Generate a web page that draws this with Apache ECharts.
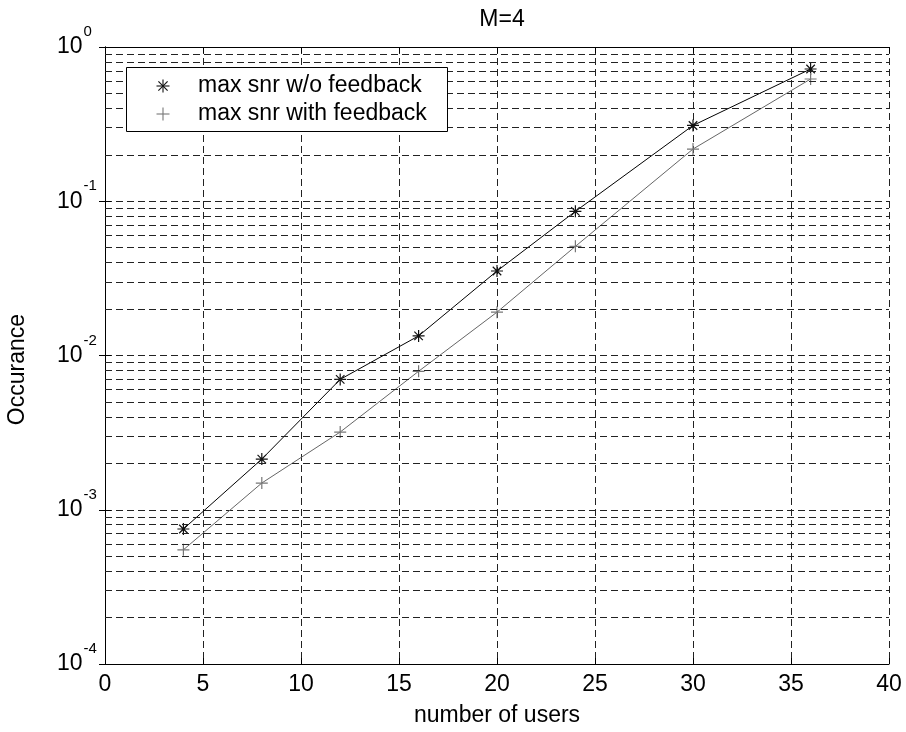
<!DOCTYPE html>
<html>
<head>
<meta charset="utf-8">
<script src="https://cdn.jsdelivr.net/npm/echarts@6/dist/echarts.min.js"></script>
<style>
  html, body { margin: 0; padding: 0; background: #fff; }
  #chart { width: 906px; height: 732px; }
</style>
</head>
<body>
<div id="chart"></div>
<script>
// Number of users on the x axis
const users = [4, 8, 12, 16, 20, 24, 30, 36];
// Occurrence probability, max SNR scheduling without feedback
const noFeedback = [7.5e-4, 2.13e-3, 7.0e-3, 1.34e-2, 3.53e-2, 8.6e-2, 0.31, 0.72];
// Occurrence probability, max SNR scheduling with feedback
const withFeedback = [5.5e-4, 1.49e-3, 3.19e-3, 7.9e-3, 1.91e-2, 5.1e-2, 0.218, 0.62];
// Minor log grid positions (2..9 within each decade)
const minorGrid = [
  2e-4, 3e-4, 4e-4, 5e-4, 6e-4, 7e-4, 8e-4, 9e-4,
  2e-3, 3e-3, 4e-3, 5e-3, 6e-3, 7e-3, 8e-3, 9e-3,
  2e-2, 3e-2, 4e-2, 5e-2, 6e-2, 7e-2, 8e-2, 9e-2,
  0.2, 0.3, 0.4, 0.5, 0.6, 0.7, 0.8, 0.9
];
const seriesNames = ['max snr w/o feedback', 'max snr with feedback'];
const seriesColors = ['#111', '#777'];

const FONT = 'Liberation Sans, Arial, sans-serif';
const FS = 23;
// Marker outlines: asterisk (plus + diagonal cross) and plus, as filled thin bars
const STAR_PATH = 'M-0.5,-5L0.5,-5L0.5,5L-0.5,5Z M-5,-0.5L5,-0.5L5,0.5L-5,0.5Z ' +
  'M-3.19,-3.89L3.89,3.19L3.19,3.89L-3.89,-3.19Z M-3.89,3.19L3.19,-3.89L3.89,-3.19L-3.19,3.89Z';
const PLUS_PATH = 'M-0.5,-5L0.5,-5L0.5,5L-0.5,5Z M-5,-0.5L5,-0.5L5,0.5L-5,0.5Z';

// Spoke directions of the key icons (unit vectors)
const starSpokes = [[0, 1], [1, 0], [0.7071, 0.7071], [0.7071, -0.7071]];
const plusSpokes = [[0, 1], [1, 0]];
const keySpokes = [starSpokes, plusSpokes];

const gridDash = { type: [7, 4], color: '#222', width: 1 };

const chart = echarts.init(document.getElementById('chart'), null, { renderer: 'canvas' });

function pairs(xs, ys) { return xs.map((x, i) => [x, ys[i]]); }

// Boxed key in the upper-left corner of the plot
const keyBox = { x: 126, y: 67, w: 321, h: 64, iconX: 163, textX: 198, rowY: [86, 114], r: 6.5 };
const keyGraphics = [{
  type: 'rect', z: 100,
  shape: { x: keyBox.x + 0.5, y: keyBox.y + 0.5, width: keyBox.w, height: keyBox.h },
  style: { fill: '#fff', stroke: '#000', lineWidth: 1 }
}];
seriesNames.forEach((name, i) => {
  keySpokes[i].forEach(([dx, dy]) => {
    keyGraphics.push({
      type: 'line', z: 101,
      shape: {
        x1: keyBox.iconX - dx * keyBox.r, y1: keyBox.rowY[i] - dy * keyBox.r,
        x2: keyBox.iconX + dx * keyBox.r, y2: keyBox.rowY[i] + dy * keyBox.r
      },
      style: { stroke: seriesColors[i], lineWidth: 1.1 }
    });
  });
  keyGraphics.push({
    type: 'text', z: 101, x: keyBox.textX, y: keyBox.rowY[i],
    style: { text: name, font: FS + 'px ' + FONT, fill: '#000', verticalAlign: 'middle' }
  });
});

chart.setOption({
  animation: false,
  backgroundColor: '#fff',
  textStyle: { fontFamily: FONT },
  title: {
    text: 'M=4', left: 497, top: 3, textAlign: 'center',
    textStyle: { fontFamily: FONT, fontSize: FS, fontWeight: 'normal', color: '#000' }
  },
  grid: { left: 105, right: 17, top: 47, bottom: 68 },
  xAxis: [{
    type: 'value', min: 0, max: 40, interval: 5,
    name: 'number of users', nameLocation: 'middle', nameGap: 40,
    nameTextStyle: { fontFamily: FONT, fontSize: FS, color: '#000' },
    axisLine: { lineStyle: { color: '#000', width: 1 } },
    axisTick: { inside: true, length: 6, lineStyle: { color: '#000' } },
    axisLabel: { fontFamily: FONT, fontSize: FS, color: '#000', margin: 9 },
    splitLine: { show: true, lineStyle: gridDash }
  }, {
    type: 'value', min: 0, max: 40, interval: 5, position: 'top',
    axisLine: { lineStyle: { color: '#000', width: 1 } },
    axisTick: { inside: true, length: 6, lineStyle: { color: '#000' } },
    axisLabel: { show: false }, splitLine: { show: false }
  }],
  yAxis: [{
    type: 'log', logBase: 10, min: 1e-4, max: 1, splitNumber: 4,
    axisLine: { show: true, lineStyle: { color: '#000', width: 1 } },
    axisTick: { show: true, inside: true, length: 6, lineStyle: { color: '#000' } },
    axisLabel: {
      fontFamily: FONT, color: '#000', align: 'left', margin: 48,
      formatter: v => '{b|10}{e|' + Math.round(Math.log10(v)) + '}',
      rich: {
        b: { fontFamily: FONT, fontSize: FS, color: '#000' },
        e: { fontFamily: FONT, fontSize: 15, color: '#000', padding: [0, 0, 30, 1] }
      }
    },
    splitLine: { show: true, lineStyle: gridDash }
  }, {
    type: 'log', logBase: 10, min: 1e-4, max: 1, splitNumber: 4, position: 'right',
    axisLine: { show: true, lineStyle: { color: '#000', width: 1 } },
    axisTick: { show: true, inside: true, length: 6, lineStyle: { color: '#000' } },
    axisLabel: { show: false }, splitLine: { show: false }
  }],
  graphic: [{
    type: 'text', left: 6, top: 314, rotation: Math.PI / 2,
    style: { text: 'Occurance', font: FS + 'px ' + FONT, fill: '#000' }
  }].concat(keyGraphics),
  series: [{
    name: 'minor grid', type: 'line', data: [], z: 1, silent: true,
    markLine: {
      silent: true, symbol: 'none', animation: false, precision: 10,
      label: { show: false },
      lineStyle: gridDash,
      emphasis: { disabled: true },
      data: minorGrid.map(v => ({ yAxis: v }))
    }
  }, {
    name: seriesNames[0], type: 'line', z: 3,
    data: pairs(users, noFeedback),
    symbol: 'path://' + STAR_PATH, symbolSize: 12,
    itemStyle: { color: seriesColors[0] },
    lineStyle: { color: '#000', width: 1 }
  }, {
    name: seriesNames[1], type: 'line', z: 3,
    data: pairs(users, withFeedback),
    symbol: 'path://' + PLUS_PATH, symbolSize: 12,
    itemStyle: { color: seriesColors[1] },
    lineStyle: { color: '#666', width: 1 }
  }]
});
</script>
</body>
</html>
